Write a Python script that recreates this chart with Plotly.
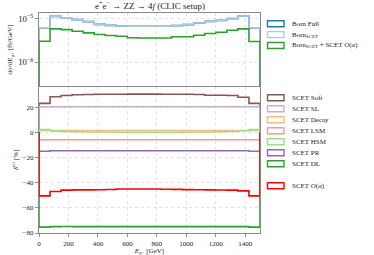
import plotly.graph_objects as go

# ---------------- data ----------------
bin_edges = list(range(0, 1501, 75))  # E_mu+ bins [GeV]

born_full = [6.15e-6, 1.128e-5, 1.054e-5, 9.49e-6, 8.55e-6, 7.42e-6, 7.04e-6, 6.82e-6, 6.68e-6, 6.68e-6,
             6.68e-6, 6.68e-6, 6.93e-6, 7.31e-6, 7.98e-6, 8.69e-6, 9.15e-6, 1.0e-5, 1.151e-5, 6.15e-6]
born_scet = [6.15e-6, 1.128e-5, 1.054e-5, 9.49e-6, 8.55e-6, 7.42e-6, 7.04e-6, 6.82e-6, 6.68e-6, 6.68e-6,
             6.68e-6, 6.68e-6, 6.93e-6, 7.31e-6, 7.98e-6, 8.69e-6, 9.15e-6, 1.0e-5, 1.151e-5, 6.15e-6]
born_scet_oa = [3.05e-6, 5.83e-6, 5.62e-6, 5.14e-6, 4.73e-6, 4.33e-6, 4.11e-6, 3.96e-6, 3.66e-6, 3.62e-6,
                3.62e-6, 3.62e-6, 3.84e-6, 3.84e-6, 4.17e-6, 4.56e-6, 4.89e-6, 5.42e-6, 5.83e-6, 3.00e-6]

scet_soft = [23.0, 28.3, 29.3, 29.8, 30.0, 30.2, 30.2, 30.2, 30.3, 30.3,
             30.3, 30.2, 30.2, 30.2, 30.0, 29.4, 29.4, 29.3, 27.8, 23.0]
scet_sl = [20.3] * 20
scet_decay = [1.4] * 20
scet_lsm = [-5.9] * 20
scet_hsm = [2.1, 1.0, 0.6, 0.4, 0.3, 0.2, 0.2, 0.1, 0.1, 0.1,
            0.1, 0.1, 0.1, 0.2, 0.2, 0.3, 0.4, 0.6, 1.2, 2.1]
scet_pr = [-15.0, -14.7, -14.6, -14.6, -14.6, -14.6, -14.6, -14.6, -14.6, -14.6,
           -14.6, -14.6, -14.6, -14.6, -14.6, -14.6, -14.6, -14.6, -14.7, -15.0]
scet_dl = [-75.3, -74.9, -74.8, -74.9, -74.9, -74.9, -74.9, -74.9, -74.9, -74.9,
           -74.9, -74.9, -74.9, -74.9, -74.9, -74.9, -74.9, -74.9, -74.9, -75.3]
scet_oa = [-50.5, -47.0, -45.9, -45.7, -45.7, -45.6, -45.4, -45.1, -45.1, -45.1,
           -45.1, -45.2, -45.3, -45.5, -45.6, -45.7, -45.8, -45.9, -46.5, -50.5]

top_names = ["Born Full", "Born<sub>SCET</sub>", "Born<sub>SCET</sub> + SCET <i>O</i>(<i>α</i>)"]
top_series = [born_full, born_scet, born_scet_oa]
top_colors = ["#1f77b4", "#aec7e8", "#2ca02c"]

bot_names = ["SCET Soft", "SCET SL", "SCET Decay", "SCET LSM", "SCET HSM", "SCET PR", "SCET DL",
             "SCET <i>O</i>(<i>α</i>)"]
bot_series = [scet_soft, scet_sl, scet_decay, scet_lsm, scet_hsm, scet_pr, scet_dl, scet_oa]
bot_colors = ["#8c564b", "#c5b0d5", "#ffbb78", "#ff9896", "#98df8a", "#9467bd", "#2ca02c", "#ff0000"]
bot_slots = [0, 1, 2, 3, 4, 5, 6, 8]

# ---------------- layout helpers ----------------
W, H = 374, 255
L, R, T, B = 39, 114, 13, 22
PW, PH = W - L - R, H - T - B
FONT = "Liberation Serif"
TXT = "#222222"


def pxx(x):
    return (x - L) / PW


def pxy(y):
    return (H - B - y) / PH


def step(vals, base):
    xs = [bin_edges[0]] + bin_edges[:-1] + [bin_edges[-1], bin_edges[-1]]
    ys = [base] + list(vals) + [vals[-1], base]
    return xs, ys


fig = go.Figure()

for name, vals, col in zip(top_names, top_series, top_colors):
    xs, ys = step(vals, 1e-9)
    fig.add_trace(go.Scatter(x=xs, y=ys, mode="lines", line=dict(color=col, width=1.6, shape="hv"),
                             name=name, showlegend=False, xaxis="x", yaxis="y"))

for name, vals, col in zip(bot_names, bot_series, bot_colors):
    xs, ys = step(vals, 0.0)
    fig.add_trace(go.Scatter(x=xs, y=ys, mode="lines", line=dict(color=col, width=1.6, shape="hv"),
                             name=name, showlegend=False, xaxis="x2", yaxis="y2"))

# legend built from names/colors
shapes, annots = [], []


def legend_entry(label, col, yc):
    shapes.append(dict(type="rect", xref="paper", yref="paper",
                       x0=pxx(267.5), x1=pxx(284), y0=pxy(yc + 3), y1=pxy(yc - 3),
                       line=dict(color=col, width=1.4), fillcolor="white", layer="above"))
    annots.append(dict(x=pxx(289.5), y=pxy(yc), xref="paper", yref="paper", text=label,
                       showarrow=False, xanchor="left", yanchor="middle",
                       font=dict(family=FONT, size=7, color=TXT)))


for i, (n, c) in enumerate(zip(top_names, top_colors)):
    legend_entry(n, c, 23.7 + 10.9 * i)
for slot, n, c in zip(bot_slots, bot_names, bot_colors):
    legend_entry(n, c, 97.8 + 11.0 * slot)

split = pxy(87)
axis_common = dict(showline=True, linecolor="#8a8a8a", linewidth=1.3, mirror=True, automargin=False,
                   gridcolor="#e2e2e2", griddash="dot", gridwidth=0.8, zeroline=False,
                   tickfont=dict(family=FONT, size=7, color=TXT), ticklen=3, tickcolor="#8a8a8a")

fig.update_layout(
    width=W, height=H, autosize=False, margin=dict(l=L, r=R, t=T, b=B, pad=0, autoexpand=False),
    paper_bgcolor="white", plot_bgcolor="white",
    title=dict(text="e<sup>+</sup>e<sup>−</sup> → ZZ → 4<i>f</i> (CLIC setup)", x=150 / W,
               xanchor="center", y=1 - 6 / H, yanchor="middle", automargin=False,
               font=dict(family=FONT, size=9, color=TXT)),
    xaxis=dict(domain=[0, 1], anchor="y", range=[0, 1500], dtick=200, showticklabels=False,
               ticks="", **axis_common),
    yaxis=dict(domain=[split + 0.004, 1], anchor="x", type="log", range=[-6.545, -4.87], dtick=1,
               exponentformat="power", ticks="outside",
               title=dict(text="dσ/dE<sub>μ+</sub> [fb/GeV]", standoff=4,
                          font=dict(family=FONT, size=7, color=TXT)), **axis_common),
    xaxis2=dict(domain=[0, 1], anchor="y2", range=[0, 1500], dtick=200, ticks="outside",
                title=dict(text="<i>E</i><sub>μ+</sub> [GeV]", standoff=2,
                           font=dict(family=FONT, size=7, color=TXT)), **axis_common),
    yaxis2=dict(domain=[0, split], anchor="x2", range=[-80, 36], dtick=20, ticks="outside",
                title=dict(text="<i>δ</i><sup>rel</sup> [%]", standoff=3,
                           font=dict(family=FONT, size=7, color=TXT)), **axis_common),
    shapes=shapes, annotations=annots, showlegend=False,
)

fig.write_html("out.html", config={"displayModeBar": False, "responsive": False},
               post_script="document.body.style.margin='0';document.body.style.overflow='hidden';")
